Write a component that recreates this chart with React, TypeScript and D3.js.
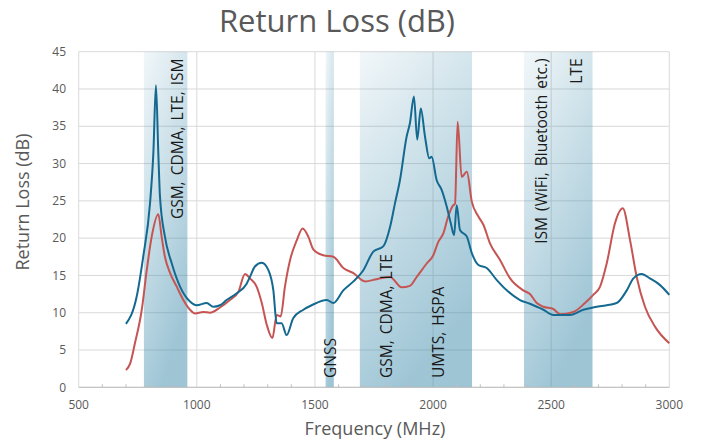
import React from "react";
import * as d3 from "d3";

// Return loss curves (MHz, dB)
const blueFreq = [700, 745, 773, 802, 816, 827, 837, 844, 865, 894, 929, 971, 999, 1042, 1070, 1098, 1126, 1169, 1211, 1225, 1246, 1275, 1303, 1324, 1338, 1359, 1380, 1408, 1451, 1486, 1550, 1578, 1620, 1663, 1705, 1747, 1789, 1818, 1839, 1860, 1888, 1902, 1919, 1933, 1948, 1966, 1984, 1994, 2015, 2036, 2058, 2075, 2089, 2100, 2114, 2143, 2164, 2192, 2227, 2269, 2312, 2368, 2410, 2439, 2467, 2509, 2580, 2636, 2693, 2777, 2820, 2848, 2883, 2918, 2961, 3000];
const blueLoss = [8.5, 12.1, 17.5, 24.7, 31.4, 40.5, 31.4, 25.6, 20.2, 16.6, 13.5, 11.5, 11.0, 11.3, 10.8, 11.0, 11.7, 12.6, 13.9, 14.8, 16.2, 16.7, 15.7, 13.0, 8.6, 8.6, 7.0, 9.25, 10.4, 11.0, 11.7, 11.3, 13.0, 14.2, 15.7, 18.2, 18.9, 21.5, 24.7, 27.8, 33.6, 35.4, 39.0, 33.2, 37.4, 33.6, 30.7, 30.9, 27.8, 26.5, 24.2, 22.0, 20.4, 24.4, 21.1, 20.2, 18.0, 16.4, 16.0, 14.4, 13.0, 11.7, 11.2, 10.8, 10.4, 9.7, 9.7, 10.4, 10.8, 11.3, 13.0, 14.6, 15.2, 14.6, 13.7, 12.4];

const redFreq = [700, 718, 738, 767, 788, 809, 837, 851, 865, 887, 915, 943, 971, 992, 1027, 1056, 1098, 1140, 1176, 1204, 1225, 1253, 1275, 1296, 1320, 1338, 1355, 1373, 1395, 1423, 1448, 1472, 1493, 1535, 1578, 1620, 1663, 1712, 1761, 1818, 1867, 1902, 1931, 1973, 2001, 2022, 2043, 2064, 2085, 2093, 2104, 2121, 2143, 2164, 2192, 2213, 2241, 2283, 2326, 2382, 2410, 2439, 2467, 2509, 2538, 2594, 2643, 2678, 2707, 2735, 2770, 2803, 2834, 2862, 2897, 2940, 3000];
const redLoss = [2.3, 3.2, 5.9, 10.4, 15.7, 20.2, 23.2, 20.2, 17.5, 15.3, 13.5, 11.7, 10.4, 9.9, 10.1, 10.0, 10.7, 11.7, 12.8, 15.2, 14.6, 13.5, 11.3, 8.4, 6.6, 9.7, 9.5, 13.5, 17.1, 19.7, 21.3, 20.2, 18.5, 17.7, 17.5, 16.0, 15.3, 14.2, 14.5, 14.8, 13.4, 13.6, 14.8, 16.6, 17.7, 19.5, 20.6, 22.9, 24.4, 24.6, 35.6, 28.2, 28.9, 24.9, 22.9, 21.8, 19.3, 17.1, 14.6, 13.0, 12.5, 11.3, 10.8, 10.5, 9.8, 10.1, 11.3, 12.4, 13.5, 16.6, 22.0, 24.0, 19.7, 14.8, 10.8, 8.1, 5.9];

// Frequency bands (MHz)
const bandStart = [776, 1545, 1690, 2385];
const bandEnd = [960, 1580, 2165, 2675];

// Band labels: text, frequency, anchored at top or bottom
const labelText = ["GSM, CDMA, LTE, ISM", "GNSS", "GSM, CDMA, LTE", "UMTS, HSPA", "ISM (WiFi, Bluetooth etc.)", "LTE"];
const labelFreq = [914, 1564, 1799, 2019, 2459, 2604];
const labelTop = [true, false, false, false, true, true];

const xTicks = [500, 1000, 1500, 2000, 2500, 3000];
const yTicks = [0, 5, 10, 15, 20, 25, 30, 35, 40, 45];

const W = 701;
const H = 445;
const margin = { left: 78.7, right: 31.7, top: 51.7, bottom: 57.7 };
const font = "'Open Sans', 'Noto Sans', sans-serif";
const grey = "#595959";

export default function App() {
  const x = d3.scaleLinear().domain([500, 3000]).range([margin.left, W - margin.right]);
  const y = d3.scaleLinear().domain([0, 45]).range([H - margin.bottom, margin.top]);

  const line = d3
    .line<number>()
    .x((d) => x(d))
    .curve(d3.curveMonotoneX);

  const bluePath = line.y((_, i) => y(blueLoss[i]))(blueFreq) ?? "";
  const redPath = line.y((_, i) => y(redLoss[i]))(redFreq) ?? "";

  const minor = d3.range(600, 3000, 100).filter((v) => v % 500 !== 0);

  return (
    <svg
      width={W}
      height={H}
      style={{ position: "absolute", left: 0, top: 0, background: "#fff" }}
      fontFamily={font}
    >
      <defs>
        <linearGradient id="band" x1="0" y1="0" x2="0.4" y2="1">
          <stop offset="0%" stopColor="#3f8cac" stopOpacity={0.07} />
          <stop offset="100%" stopColor="#3f8cac" stopOpacity={0.5} />
        </linearGradient>
      </defs>

      <text x={337} y={32} textAnchor="middle" fontSize={31} fill={grey}>
        Return Loss (dB)
      </text>

      {/* grid */}
      {yTicks.map((t) => (
        <line key={"gy" + t} x1={x(500)} x2={x(3000)} y1={y(t)} y2={y(t)} stroke="#d9d9d9" strokeWidth={1} />
      ))}
      {xTicks.slice(1).map((t) => (
        <line key={"gx" + t} x1={x(t)} x2={x(t)} y1={y(0)} y2={y(45)} stroke="#d9d9d9" strokeWidth={1} />
      ))}

      {/* bands */}
      {bandStart.map((s, i) => (
        <rect key={"b" + i} x={x(s)} y={y(45)} width={x(bandEnd[i]) - x(s)} height={y(0) - y(45)} fill="url(#band)" />
      ))}

      {/* axis */}
      <line x1={x(500)} x2={x(3000)} y1={y(0)} y2={y(0)} stroke="#bfbfbf" strokeWidth={1} />
      <line x1={x(500)} x2={x(500)} y1={y(0)} y2={y(45)} stroke="#d9d9d9" strokeWidth={1} />
      {minor.map((t) => (
        <line key={"m" + t} x1={x(t)} x2={x(t)} y1={y(0)} y2={y(0) - 3} stroke="#bfbfbf" strokeWidth={1} />
      ))}

      {yTicks.map((t) => (
        <text key={"ty" + t} x={66} y={y(t)} dy="0.35em" textAnchor="end" fontSize={12} fill={grey}>
          {t}
        </text>
      ))}
      {xTicks.map((t) => (
        <text key={"tx" + t} x={x(t)} y={409} textAnchor="middle" fontSize={12} fill={grey}>
          {t}
        </text>
      ))}

      {/* curves */}
      <path d={redPath} fill="none" stroke="#c55553" strokeWidth={2} strokeLinejoin="round" />
      <path d={bluePath} fill="none" stroke="#13698f" strokeWidth={2} strokeLinejoin="round" />

      {/* band labels */}
      {labelText.map((t, i) => {
        const lx = x(labelFreq[i]);
        const ly = labelTop[i] ? 58.5 : 378;
        return (
          <text
            key={"l" + i}
            transform={`translate(${lx},${ly}) rotate(-90)`}
            textAnchor={labelTop[i] ? "end" : "start"}
            dominantBaseline="central"
            fontSize={15.5}
            wordSpacing={2}
            fill="#1a1a1a"
          >
            {t}
          </text>
        );
      })}

      <text x={375} y={435} textAnchor="middle" fontSize={18} fill={grey}>
        Frequency (MHz)
      </text>
      <text transform={`translate(29,${202}) rotate(-90)`} textAnchor="middle" fontSize={18} fill={grey}>
        Return Loss (dB)
      </text>
    </svg>
  );
}
